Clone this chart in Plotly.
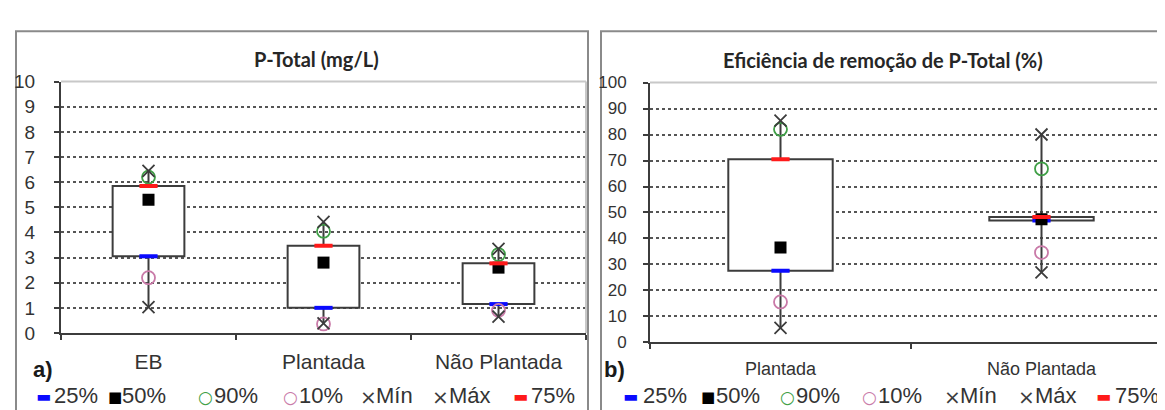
import plotly.graph_objects as go

# ---------------- data ----------------
cats_a = ["EB", "Plantada", "Não Plantada"]
a_p25 = [3.05, 1.0, 1.15]
a_p50 = [5.3, 2.8, 2.6]
a_p75 = [5.85, 3.47, 2.77]
a_p90 = [6.2, 4.05, 3.12]
a_p10 = [2.2, 0.36, 0.9]
a_min = [1.03, 0.38, 0.65]
a_max = [6.45, 4.42, 3.35]
ticks_a = [0, 1, 2, 3, 4, 5, 6, 7, 8, 9, 10]

cats_b = ["Plantada", "Não Plantada"]
b_p25 = [27.6, 46.9]
b_p50 = [36.5, 47.4]
b_p75 = [70.5, 48.3]
b_p90 = [82.0, 66.8]
b_p10 = [15.6, 34.6]
b_min = [5.6, 27.0]
b_max = [85.3, 80.0]
ticks_b = [0, 10, 20, 30, 40, 50, 60, 70, 80, 90, 100]

title_a = "P-Total (mg/L)"
title_b = "Eficiência de remoção de P-Total (%)"
legend_labels = ["25%", "50%", "90%", "10%", "Mín", "Máx", "75%"]

# ---------------- style ----------------
W, H = 1165, 410
BLUE = "#0a0aff"
RED = "#ff1a1a"
GREEN = "#3f9f46"
PINK = "#c97aa8"
DARK = "#3c3c3c"
TXT = "#333333"
GRID = "#555555"
FONT = "Liberation Sans"

legend_symbols = ["▬", "■", "○", "○", "×", "×", "▬"]
legend_colors = [BLUE, "#000000", GREEN, PINK, DARK, DARK, RED]
legend_sym_sizes = [16, 15, 17, 17, 20, 20, 16]

fig = go.Figure()


def px_x(v):
    return v / W


def px_y(v):
    return 1 - v / H


def add_panel(cats, p25, p50, p75, p90, p10, pmin, pmax, xa, ya, box_w):
    # whiskers (outside the box)
    wx, wy = [], []
    for c, lo, q1, q3, hi in zip(cats, pmin, p25, p75, pmax):
        wx += [c, c, None, c, c, None]
        wy += [lo, q1, None, q3, hi, None]
    fig.add_trace(go.Scatter(x=wx, y=wy, mode="lines", xaxis=xa, yaxis=ya,
                             line=dict(color=DARK, width=2), showlegend=False,
                             hoverinfo="skip"))
    # box
    fig.add_trace(go.Bar(x=cats, y=[q3 - q1 for q1, q3 in zip(p25, p75)], base=p25,
                         width=box_w, xaxis=xa, yaxis=ya,
                         marker=dict(color="white", line=dict(color=DARK, width=2)),
                         showlegend=False))
    series = [
        (p25, "line-ew-open", BLUE, 13, 4, "25%"),
        (p50, "square", "#000000", 12, 0, "50%"),
        (p90, "circle-open", GREEN, 13, 1.8, "90%"),
        (p10, "circle-open", PINK, 13, 1.8, "10%"),
        (pmin, "x-thin-open", DARK, 12, 1.8, "Mín"),
        (pmax, "x-thin-open", DARK, 12, 1.8, "Máx"),
        (p75, "line-ew-open", RED, 13, 4, "75%"),
    ]
    for vals, sym, col, size, lw, name in series:
        fig.add_trace(go.Scatter(x=cats, y=vals, mode="markers", name=name,
                                 xaxis=xa, yaxis=ya, showlegend=False,
                                 marker=dict(symbol=sym, color=col, size=size,
                                             line=dict(color=col, width=lw))))


add_panel(cats_a, a_p25, a_p50, a_p75, a_p90, a_p10, a_min, a_max, "x", "y", 0.41)
add_panel(cats_b, b_p25, b_p50, b_p75, b_p90, b_p10, b_min, b_max, "x2", "y2", 0.40)


def xaxis_cfg(dom, n, fsize, standoff):
    return dict(domain=dom, type="category", range=[-0.5, n - 0.5],
                showline=True, linecolor=DARK, linewidth=2,
                ticks="outside", tickson="boundaries", ticklen=5, tickwidth=2,
                tickcolor=DARK, showgrid=False, zeroline=False,
                tickfont=dict(family=FONT, size=fsize, color=TXT),
                ticklabelstandoff=standoff, fixedrange=True)


def yaxis_cfg(dom, rng, tv, fsize, standoff):
    return dict(domain=dom, range=rng, tickvals=tv,
                showline=True, linecolor=DARK, linewidth=2,
                ticks="outside", ticklen=5, tickwidth=2, tickcolor=DARK,
                showgrid=True, gridcolor=GRID, gridwidth=2, griddash="dot",
                zeroline=False, tickfont=dict(family=FONT, size=fsize, color=TXT),
                ticklabelstandoff=standoff, fixedrange=True)


fig.update_layout(
    width=W, height=H, autosize=False,
    margin=dict(l=0, r=0, t=0, b=0, pad=0),
    paper_bgcolor="white", plot_bgcolor="white",
    showlegend=False, barmode="overlay",
    xaxis=xaxis_cfg([px_x(53), px_x(578)], len(cats_a), 21, 9),
    yaxis=yaxis_cfg([px_y(332), px_y(67)], [0, 10], ticks_a, 19, 15),
    xaxis2=xaxis_cfg([px_x(642), px_x(1164)], len(cats_b), 18, 9),
    yaxis2=yaxis_cfg([px_y(342), px_y(68)], [0, 100], ticks_b, 17, 13),
)
fig.update_layout(yaxis2=dict(anchor="x2"), xaxis2=dict(anchor="y2"))

shapes = []
# panel frames
shapes.append(dict(type="rect", xref="paper", yref="paper", x0=px_x(8), x1=px_x(580),
                   y0=-0.05, y1=px_y(14), line=dict(color="#8a8a8a", width=2),
                   fillcolor="rgba(0,0,0,0)", layer="below"))
shapes.append(dict(type="rect", xref="paper", yref="paper", x0=px_x(593), x1=1.05,
                   y0=-0.05, y1=px_y(14), line=dict(color="#8a8a8a", width=2),
                   fillcolor="rgba(0,0,0,0)", layer="below"))
# light plot-area border (top / right)
for xr, yr in (("x domain", "y domain"), ("x2 domain", "y2 domain")):
    shapes.append(dict(type="line", xref=xr, yref=yr, x0=0, x1=1, y0=1, y1=1,
                       line=dict(color="#c8c8c8", width=2), layer="above"))
    shapes.append(dict(type="line", xref=xr, yref=yr, x0=1, x1=1, y0=0, y1=1,
                       line=dict(color="#c8c8c8", width=2), layer="above"))
fig.update_layout(shapes=shapes)

ann = []
ann.append(dict(text="<b>" + title_a + "</b>", xref="paper", yref="paper",
                x=px_x(308), y=px_y(43), showarrow=False, xanchor="center", yanchor="middle",
                font=dict(family="Lato", size=20, color="#262626")))
ann.append(dict(text="<b>" + title_b + "</b>", xref="paper", yref="paper",
                x=px_x(875), y=px_y(44), showarrow=False, xanchor="center", yanchor="middle",
                font=dict(family="Lato", size=20, color="#262626")))
ann.append(dict(text="<b>a)</b>", xref="paper", yref="paper", x=px_x(24), y=px_y(371),
                showarrow=False, xanchor="left", yanchor="middle", borderpad=0,
                font=dict(family=FONT, size=22, color="#1a1a1a")))
ann.append(dict(text="<b>b)</b>", xref="paper", yref="paper", x=px_x(595), y=px_y(371),
                showarrow=False, xanchor="left", yanchor="middle", borderpad=0,
                font=dict(family=FONT, size=22, color="#1a1a1a")))

# manual legends under each panel
leg_sym_x = [[35, 107, 198, 282, 360, 432, 512], [622, 700, 779, 861, 944, 1018, 1095]]
leg_txt_x = [[45, 113, 205, 290, 367, 440, 522], [634, 707, 787, 869, 951, 1026, 1106]]
for sx_list, tx_list in zip(leg_sym_x, leg_txt_x):
    for sx, tx, sym, col, ssz, lab in zip(sx_list, tx_list, legend_symbols, legend_colors,
                                          legend_sym_sizes, legend_labels):
        ann.append(dict(text=sym, xref="paper", yref="paper", x=px_x(sx), y=px_y(399),
                        showarrow=False, xanchor="center", yanchor="middle", borderpad=0,
                        font=dict(family="DejaVu Sans", size=ssz, color=col)))
        ann.append(dict(text=lab, xref="paper", yref="paper", x=px_x(tx), y=px_y(398),
                        showarrow=False, xanchor="left", yanchor="middle", borderpad=0,
                        font=dict(family=FONT, size=22, color=TXT)))
fig.update_layout(annotations=ann)

fig.write_html("out.html")
